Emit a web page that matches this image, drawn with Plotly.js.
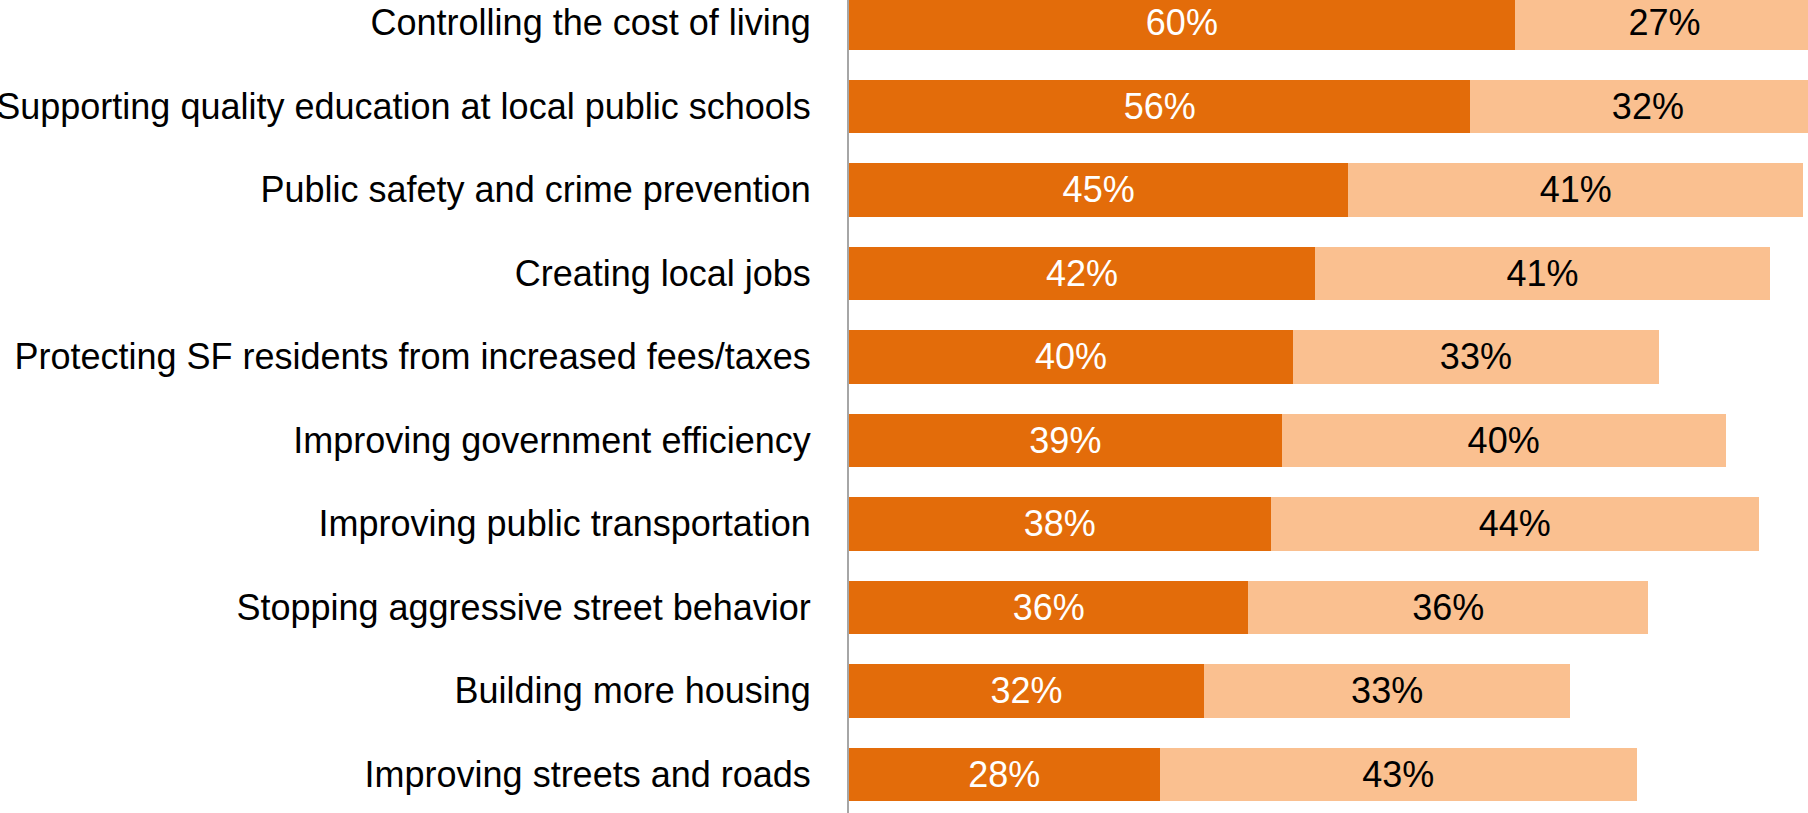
<!DOCTYPE html>
<html>
<head>
<meta charset="utf-8">
<script src="https://cdn.plot.ly/plotly-3.0.1.min.js"></script>
<style>html,body{margin:0;padding:0;background:#fff;overflow:hidden}#chart{width:1808px;height:813px}</style>
</head>
<body>
<div id="chart"></div>
<script>
const categories = [
  "Controlling the cost of living",
  "Supporting quality education at local public schools",
  "Public safety and crime prevention",
  "Creating local jobs",
  "Protecting SF residents from increased fees/taxes",
  "Improving government efficiency",
  "Improving public transportation",
  "Stopping aggressive street behavior",
  "Building more housing",
  "Improving streets and roads"
];
const seriesA = [60, 56, 45, 42, 40, 39, 38, 36, 32, 28];
const seriesB = [27, 32, 41, 41, 33, 40, 44, 36, 33, 43];

const FONT = "Liberation Sans, Arial, sans-serif";
const FS = 36;
const FSV = 36;

const traceA = {
  type: 'bar', orientation: 'h', y: categories, x: seriesA,
  marker: {color: '#E36C0A'},
  text: seriesA.map(v => v + '%'), textposition: 'inside', insidetextanchor: 'middle',
  textfont: {family: FONT, size: FSV, color: '#ffffff'}, constraintext: 'none',
  hoverinfo: 'none'
};
const traceB = {
  type: 'bar', orientation: 'h', y: categories, x: seriesB,
  marker: {color: '#FAC090'},
  text: seriesB.map(v => v + '%'), textposition: 'inside', insidetextanchor: 'middle',
  textfont: {family: FONT, size: FSV, color: '#000000'}, constraintext: 'none',
  hoverinfo: 'none'
};

const layout = {
  width: 1808, height: 813,
  margin: {l: 849, r: 0, t: 0, b: 0, pad: 0},
  barmode: 'stack', bargap: 0.36,
  showlegend: false,
  paper_bgcolor: '#ffffff', plot_bgcolor: '#ffffff',
  font: {family: FONT, size: FS, color: '#000000'},
  xaxis: {range: [0, 86.43], showgrid: false, zeroline: false, showticklabels: false, showline: false, fixedrange: true},
  yaxis: {type: 'category', range: [9.463, -0.274], showgrid: false, zeroline: false,
          showline: true, linecolor: '#a6a6a6', linewidth: 2, ticks: '', ticklabelstandoff: 29,
          tickfont: {family: FONT, size: FS, color: '#000000'}, automargin: false, fixedrange: true}
};

Plotly.newPlot('chart', [traceA, traceB], layout, {displayModeBar: false, staticPlot: true});
</script>
</body>
</html>
